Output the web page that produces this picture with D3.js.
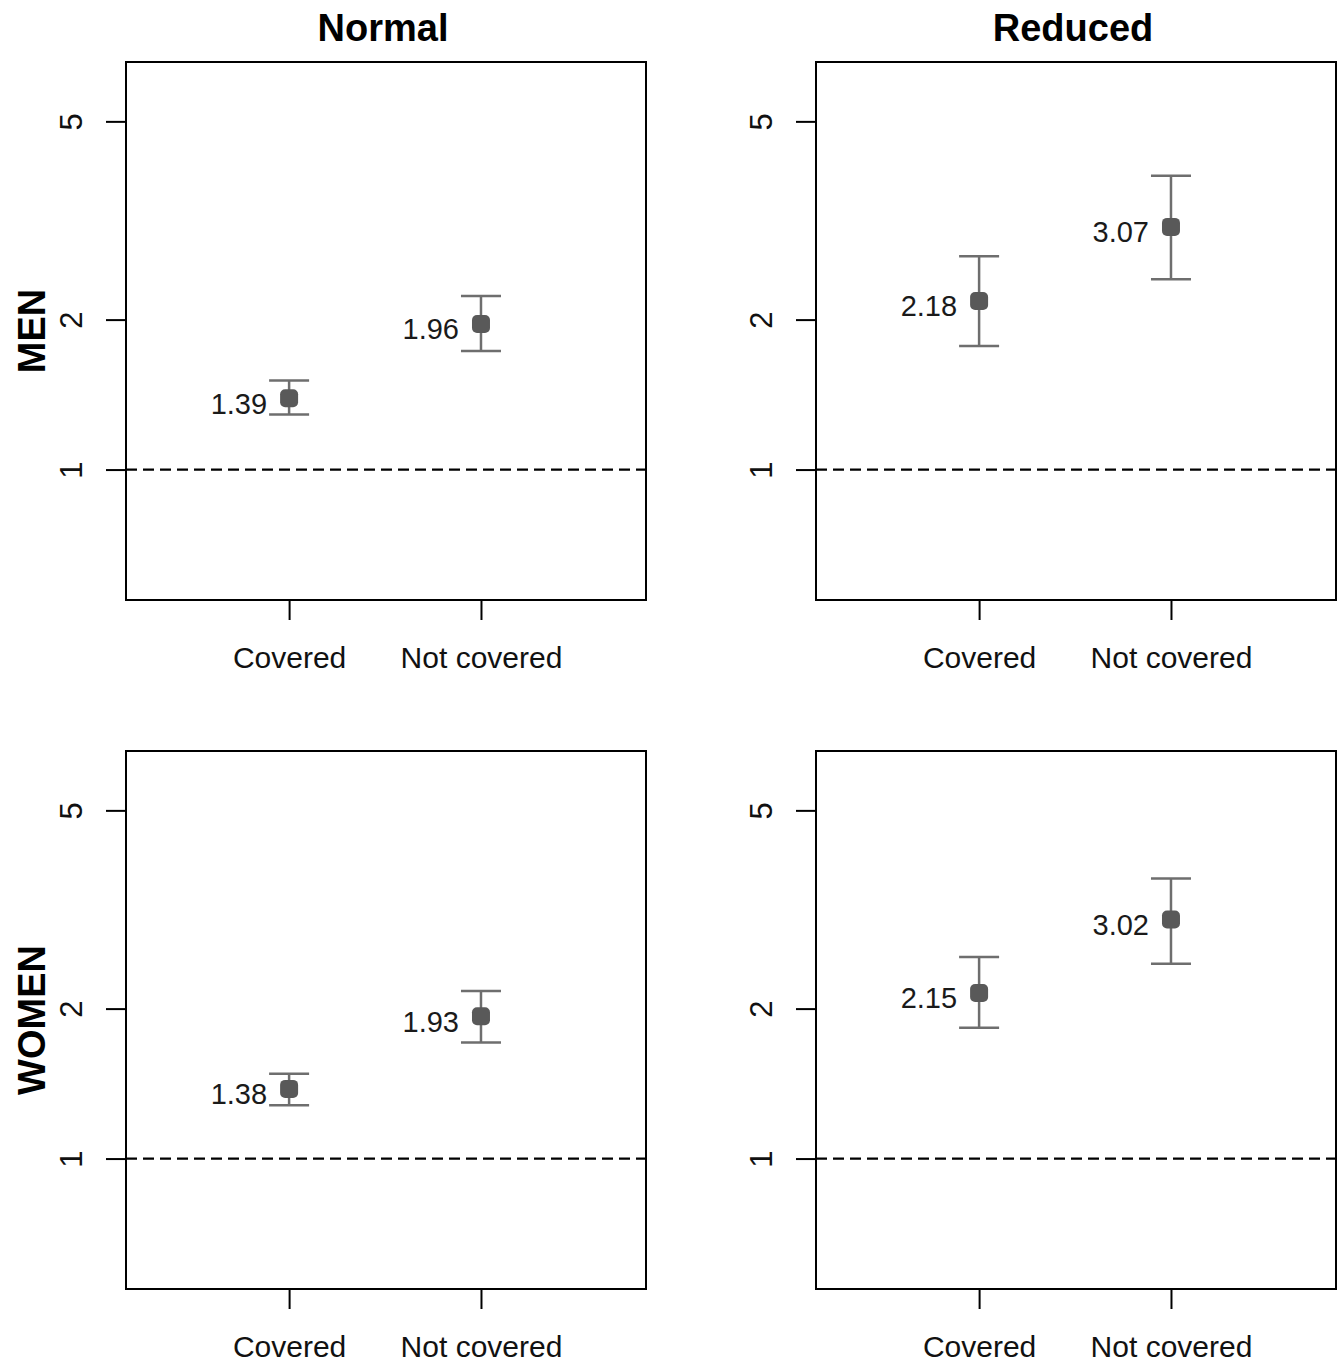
<!DOCTYPE html>
<html>
<head>
<meta charset="utf-8">
<script src="https://cdn.jsdelivr.net/npm/d3@7"></script>
<style>
  html, body { margin: 0; padding: 0; background: #ffffff; }
  svg { display: block; }
</style>
</head>
<body>
<svg id="chart" width="1344" height="1365"></svg>
<script>
// ---- data ----
const rowLabels = ["MEN", "WOMEN"];
const colLabels = ["Normal", "Reduced"];
const categories = ["Covered", "Not covered"];
const yTicks = [1, 2, 5];
const yLimits = [0.6, 6];

const menNormalEst = [1.39, 1.96];
const menNormalLo  = [1.29, 1.73];
const menNormalHi  = [1.51, 2.23];

const menReducedEst = [2.18, 3.07];
const menReducedLo  = [1.77, 2.41];
const menReducedHi  = [2.68, 3.89];

const womenNormalEst = [1.38, 1.93];
const womenNormalLo  = [1.28, 1.71];
const womenNormalHi  = [1.48, 2.17];

const womenReducedEst = [2.15, 3.02];
const womenReducedLo  = [1.83, 2.46];
const womenReducedHi  = [2.54, 3.65];

const panels = [
  { row: 0, col: 0, est: menNormalEst,   lo: menNormalLo,   hi: menNormalHi },
  { row: 0, col: 1, est: menReducedEst,  lo: menReducedLo,  hi: menReducedHi },
  { row: 1, col: 0, est: womenNormalEst, lo: womenNormalLo, hi: womenNormalHi },
  { row: 1, col: 1, est: womenReducedEst,lo: womenReducedLo,hi: womenReducedHi }
];

// ---- layout ----
const svg = d3.select("#chart");
const panelW = 520, panelH = 538;
const panelX = [126, 816];
const panelY = [62, 751];
const font = "'Liberation Sans', Arial, sans-serif";

// log axis with R-style 4% extension
const lmin = Math.log10(yLimits[0]), lmax = Math.log10(yLimits[1]);
const ext = (lmax - lmin) * 0.04;
const yDomain = [Math.pow(10, lmin - ext), Math.pow(10, lmax + ext)];
const xDomain = [0.15, 2.86];

panels.forEach(p => {
  const g = svg.append("g")
    .attr("transform", `translate(${panelX[p.col]},${panelY[p.row]})`);

  const x = d3.scaleLinear().domain(xDomain).range([0, panelW]);
  const y = d3.scaleLog().domain(yDomain).range([panelH, 0]);

  // reference line at 1
  g.append("line")
    .attr("x1", 0).attr("x2", panelW)
    .attr("y1", y(1)).attr("y2", y(1))
    .attr("stroke", "#000").attr("stroke-width", 2.2)
    .attr("stroke-dasharray", "11,6");

  // y axis
  const yAxis = d3.axisLeft(y).tickValues(yTicks).tickFormat(d3.format("d"))
    .tickSize(20).tickPadding(0);
  const ya = g.append("g").call(yAxis);
  ya.select(".domain").remove();
  ya.selectAll(".tick line").attr("stroke", "#000").attr("stroke-width", 2);
  ya.selectAll(".tick text")
    .attr("font-family", font).attr("font-size", 31).attr("fill", "#111")
    .attr("text-anchor", "middle")
    .attr("x", 0).attr("dy", null)
    .attr("transform", "translate(-44,0) rotate(-90)")
    .attr("y", 0);

  // x axis
  const xAxis = d3.axisBottom(x).tickValues(categories.map((c, i) => i + 1))
    .tickFormat((d) => categories[d - 1]).tickSize(20).tickPadding(0);
  const xa = g.append("g").attr("transform", `translate(0,${panelH})`).call(xAxis);
  xa.select(".domain").remove();
  xa.selectAll(".tick line").attr("stroke", "#000").attr("stroke-width", 2);
  xa.selectAll(".tick text")
    .attr("font-family", font).attr("font-size", 30).attr("fill", "#111")
    .attr("dy", null).attr("y", 68);

  // frame
  g.append("rect")
    .attr("x", 0).attr("y", 0).attr("width", panelW).attr("height", panelH)
    .attr("fill", "none").attr("stroke", "#000").attr("stroke-width", 2);

  const idx = d3.range(p.est.length);
  const capHalf = 20;
  const barColor = "#6e6e6e";

  // error bars
  g.selectAll(".ci").data(idx).join("line")
    .attr("x1", i => x(i + 1)).attr("x2", i => x(i + 1))
    .attr("y1", i => y(p.lo[i])).attr("y2", i => y(p.hi[i]))
    .attr("stroke", barColor).attr("stroke-width", 2.5);
  g.selectAll(".capHi").data(idx).join("line")
    .attr("x1", i => x(i + 1) - capHalf).attr("x2", i => x(i + 1) + capHalf)
    .attr("y1", i => y(p.hi[i])).attr("y2", i => y(p.hi[i]))
    .attr("stroke", barColor).attr("stroke-width", 2.5);
  g.selectAll(".capLo").data(idx).join("line")
    .attr("x1", i => x(i + 1) - capHalf).attr("x2", i => x(i + 1) + capHalf)
    .attr("y1", i => y(p.lo[i])).attr("y2", i => y(p.lo[i]))
    .attr("stroke", barColor).attr("stroke-width", 2.5);

  // points
  g.selectAll(".pt").data(idx).join("rect")
    .attr("x", i => x(i + 1) - 9).attr("y", i => y(p.est[i]) - 9)
    .attr("width", 18).attr("height", 18).attr("rx", 5)
    .attr("fill", "#595959");

  // value labels
  g.selectAll(".lab").data(idx).join("text")
    .attr("x", i => x(i + 1) - 22).attr("y", i => y(p.est[i]) + 15.5)
    .attr("text-anchor", "end")
    .attr("font-family", font).attr("font-size", 29).attr("fill", "#1a1a1a")
    .text(i => p.est[i].toFixed(2));
});

// column titles
colLabels.forEach((c, j) => {
  svg.append("text")
    .attr("x", panelX[j] + panelW / 2 - 3).attr("y", 41)
    .attr("text-anchor", "middle")
    .attr("font-family", font).attr("font-weight", "bold").attr("font-size", 38)
    .attr("fill", "#000")
    .text(c);
});

// row titles
rowLabels.forEach((r, i) => {
  const cy = panelY[i] + panelH / 2;
  svg.append("text")
    .attr("transform", `translate(45,${cy}) rotate(-90)`)
    .attr("text-anchor", "middle")
    .attr("font-family", font).attr("font-weight", "bold").attr("font-size", 38)
    .attr("fill", "#000")
    .text(r);
});
</script>
</body>
</html>
